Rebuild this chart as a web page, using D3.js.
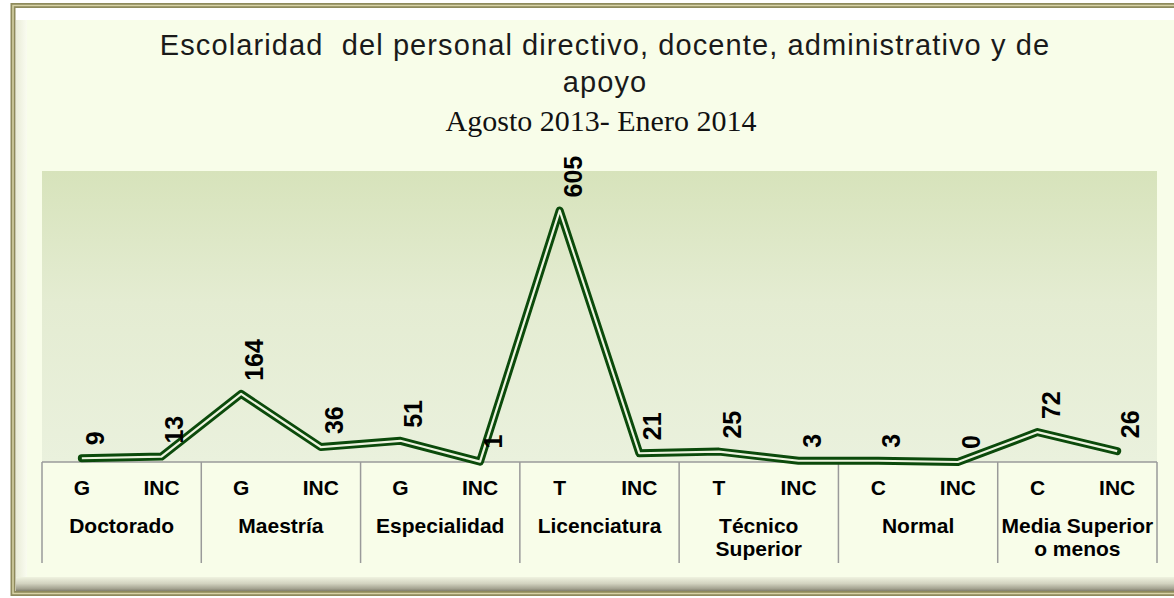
<!DOCTYPE html>
<html>
<head>
<meta charset="utf-8">
<script src="https://cdn.jsdelivr.net/npm/d3@7"></script>
<style>
  body { margin: 0; background: #ffffff; }
  svg { display: block; }
</style>
</head>
<body>
<div id="chart"></div>
<script>
// chart data
const titleLines = ["Escolaridad  del personal directivo, docente, administrativo y de", "apoyo"];
const subtitle = "Agosto 2013- Enero 2014";
const groupLabels = [["Doctorado"], ["Maestría"], ["Especialidad"], ["Licenciatura"], ["Técnico", "Superior"], ["Normal"], ["Media Superior", "o menos"]];
const subLabels = ["G", "INC", "G", "INC", "G", "INC", "T", "INC", "T", "INC", "C", "INC", "C", "INC"];
const values = [9, 13, 164, 36, 51, 1, 605, 21, 25, 3, 3, 0, 72, 26];
const yMax = 700;

const svgWidth = 1174;
const svgHeight = 598;
const plot = { left: 42, right: 1157, top: 171, bottom: 462 };

const svg = d3.select("#chart").append("svg")
    .attr("width", svgWidth)
    .attr("height", svgHeight);

const defs = svg.append("defs");

// plot area gradient
const plotGrad = defs.append("linearGradient")
    .attr("id", "plotGrad")
    .attr("x1", 0).attr("y1", 0).attr("x2", 0).attr("y2", 1);
plotGrad.append("stop").attr("offset", "0%").attr("stop-color", "#d7e3bb");
plotGrad.append("stop").attr("offset", "45%").attr("stop-color", "#e4ecd2");
plotGrad.append("stop").attr("offset", "100%").attr("stop-color", "#eaf1dd");

// bevel gradients
const bottomGrad = defs.append("linearGradient")
    .attr("id", "bottomGrad")
    .attr("x1", 0).attr("y1", 0).attr("x2", 0).attr("y2", 1);
bottomGrad.append("stop").attr("offset", "0%").attr("stop-color", "#f4f7e4");
bottomGrad.append("stop").attr("offset", "50%").attr("stop-color", "#d2d3c0");
bottomGrad.append("stop").attr("offset", "85%").attr("stop-color", "#a3a290");
bottomGrad.append("stop").attr("offset", "100%").attr("stop-color", "#807f6d");

const leftGrad = defs.append("linearGradient")
    .attr("id", "leftGrad")
    .attr("x1", 0).attr("y1", 0).attr("x2", 1).attr("y2", 0);
leftGrad.append("stop").attr("offset", "0%").attr("stop-color", "#e9ecd8");
leftGrad.append("stop").attr("offset", "100%").attr("stop-color", "#fbfdf2");

// frame
svg.append("rect")
    .attr("x", 10).attr("y", 3)
    .attr("width", 1200).attr("height", 593)
    .attr("fill", "#ffffff");
svg.append("rect")
    .attr("x", 16).attr("y", 576)
    .attr("width", 1200).attr("height", 15)
    .attr("fill", "url(#bottomGrad)");
svg.append("rect")
    .attr("x", 16).attr("y", 20)
    .attr("width", 12).attr("height", 557)
    .attr("fill", "url(#leftGrad)");
svg.append("rect")
    .attr("x", 27).attr("y", 20)
    .attr("width", 1200).attr("height", 557)
    .attr("fill", "#f8fde9");
svg.append("rect")
    .attr("x", 13).attr("y", 5.5)
    .attr("width", 1200).attr("height", 588)
    .attr("fill", "none")
    .attr("stroke", "#8e8a5c")
    .attr("stroke-width", 5);
svg.append("rect")
    .attr("x", 13).attr("y", 5.5)
    .attr("width", 1200).attr("height", 588)
    .attr("fill", "none")
    .attr("stroke", "#d8d3a6")
    .attr("stroke-width", 1.5);

// scales
const idx = d3.range(values.length);
const xScale = d3.scaleBand()
    .domain(idx)
    .range([plot.left, plot.right])
    .padding(0);

const groupScale = d3.scaleBand()
    .domain(d3.range(groupLabels.length))
    .range([plot.left, plot.right])
    .padding(0);

const yScale = d3.scaleLinear()
    .domain([0, yMax])
    .range([plot.bottom, plot.top]);

const cx = i => xScale(i) + xScale.bandwidth() / 2;

// plot area
svg.append("rect")
    .attr("x", plot.left)
    .attr("y", plot.top)
    .attr("width", plot.right - plot.left)
    .attr("height", plot.bottom - plot.top)
    .attr("fill", "url(#plotGrad)");

// title
svg.selectAll("text.t")
    .data(titleLines)
    .enter()
    .append("text")
    .attr("class", "t")
    .attr("x", 605)
    .attr("y", (d, i) => 55 + i * 37)
    .attr("text-anchor", "middle")
    .attr("font-family", "'Liberation Sans', Arial, sans-serif")
    .attr("font-size", 29)
    .attr("letter-spacing", 1.1)
    .style("white-space", "pre")
    .attr("fill", "#1a1a1a")
    .text(d => d);
svg.append("text")
    .attr("x", 601)
    .attr("y", 131)
    .attr("text-anchor", "middle")
    .attr("font-family", "'Liberation Serif', 'Times New Roman', serif")
    .attr("font-size", 30)
    .attr("fill", "#111")
    .text(subtitle);

// category axis (sub labels)
const xAxis = d3.axisBottom(xScale)
    .tickSize(0)
    .tickFormat(i => subLabels[i]);

const axisG = svg.append("g")
    .attr("transform", `translate(0, ${plot.bottom})`)
    .call(xAxis);
axisG.select(".domain").remove();
axisG.selectAll("text")
    .attr("y", 33)
    .attr("dy", 0)
    .attr("font-family", "'Liberation Sans', Arial, sans-serif")
    .attr("font-size", 21)
    .attr("font-weight", "bold")
    .attr("fill", "#000");

// table lines
svg.append("line")
    .attr("x1", plot.left).attr("x2", plot.right)
    .attr("y1", plot.bottom).attr("y2", plot.bottom)
    .attr("stroke", "#9a9a9a")
    .attr("stroke-width", 1.5);
const bounds = d3.range(groupLabels.length + 1).map(g => g < groupLabels.length ? groupScale(g) : plot.right);
svg.selectAll(".divider")
    .data(bounds)
    .enter()
    .append("line")
    .attr("class", "divider")
    .attr("x1", d => d).attr("x2", d => d)
    .attr("y1", plot.bottom).attr("y2", 563)
    .attr("stroke", "#9a9a9a")
    .attr("stroke-width", 1.5);

// group labels
const groupText = svg.selectAll(".grp")
    .data(groupLabels)
    .enter()
    .append("text")
    .attr("class", "grp")
    .attr("text-anchor", "middle")
    .attr("font-family", "'Liberation Sans', Arial, sans-serif")
    .attr("font-size", 21)
    .attr("font-weight", "bold")
    .attr("fill", "#000");
groupText.selectAll("tspan")
    .data((d, g) => d.map(line => ({ line, g })))
    .enter()
    .append("tspan")
    .attr("x", d => groupScale(d.g) + groupScale.bandwidth() / 2)
    .attr("y", (d, i) => 533 + i * 23)
    .text(d => d.line);

// line series (double line look)
const line = d3.line()
    .x((d, i) => cx(i))
    .y(d => yScale(d));

svg.append("path")
    .datum(values)
    .attr("fill", "none")
    .attr("stroke", "#0b4a0b")
    .attr("stroke-width", 8)
    .attr("stroke-linejoin", "round")
    .attr("stroke-linecap", "round")
    .attr("d", line);
svg.append("path")
    .datum(values)
    .attr("fill", "none")
    .attr("stroke", "#eef4e0")
    .attr("stroke-width", 2.2)
    .attr("stroke-linejoin", "round")
    .attr("d", line);

// data labels
svg.selectAll(".val")
    .data(values)
    .enter()
    .append("text")
    .attr("class", "val")
    .attr("transform", (d, i) => `translate(${cx(i) + 13}, ${yScale(d) - 13}) rotate(-90)`)
    .attr("text-anchor", "start")
    .attr("dominant-baseline", "central")
    .attr("font-family", "'Liberation Sans', Arial, sans-serif")
    .attr("font-size", 25)
    .attr("font-weight", "bold")
    .attr("fill", "#000")
    .text(d => d);
</script>
</body>
</html>
